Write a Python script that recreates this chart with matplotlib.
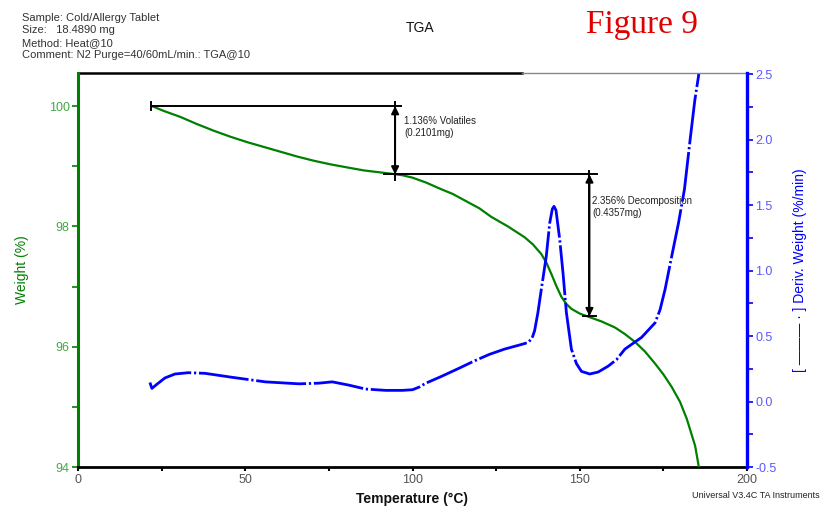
import matplotlib
matplotlib.use("Agg")
import matplotlib.pyplot as plt
from matplotlib.ticker import MultipleLocator

plt.rcParams["font.family"] = ["Liberation Sans", "DejaVu Sans"]

# --- weight curve (green) ---
temp_w = [22.1, 25.6, 30.6, 35.6, 40.6, 45.6, 50.6, 55.6, 60.6, 65.6, 70.6,
          75.6, 80.5, 85.5, 90.0, 94.5, 97.0, 100.0, 104.0, 108.5, 112.0,
          115.0, 118.0, 120.0, 123.5, 126.0, 128.5, 131.0, 133.5, 136.0,
          138.5, 140.0, 141.5, 143.0, 144.5, 146.0, 147.5, 150.0, 152.5,
          156.5, 160.5, 163.5, 166.5, 169.5, 172.5, 175.0, 177.5, 180.0,
          182.0, 184.5, 185.6]
weight = [100.0, 99.92, 99.82, 99.70, 99.59, 99.49, 99.40, 99.32, 99.24,
          99.16, 99.09, 99.03, 98.98, 98.93, 98.90, 98.87, 98.85, 98.81,
          98.73, 98.62, 98.54, 98.45, 98.36, 98.30, 98.16, 98.08, 98.00,
          97.91, 97.82, 97.70, 97.54, 97.40, 97.21, 97.01, 96.83, 96.71,
          96.63, 96.55, 96.50, 96.42, 96.32, 96.21, 96.08, 95.92, 95.72,
          95.54, 95.33, 95.08, 94.80, 94.35, 94.0]

# --- derivative curve (blue) ---
temp_d = [21.5, 22.1, 23.5, 26.0, 29.0, 33.0, 38.0, 46.0, 56.0, 66.0, 72.0,
          76.0, 81.0, 86.0, 92.0, 97.0, 100.0, 102.0, 104.0, 108.5, 114.0,
          118.5, 123.0, 127.5, 132.5, 134.5, 135.7, 136.5, 137.5, 138.5,
          140.0, 141.0, 141.8, 142.3, 142.9, 144.0, 145.0, 146.0, 147.5,
          149.0, 150.5, 153.0, 155.5, 158.5, 161.0, 163.5, 168.5, 172.5,
          174.0, 175.5, 177.5, 179.5, 181.3, 183.0, 184.4, 185.6]
deriv = [0.145, 0.10, 0.13, 0.18, 0.21, 0.22, 0.215, 0.185, 0.15, 0.135,
         0.14, 0.15, 0.125, 0.095, 0.085, 0.085, 0.09, 0.11, 0.14, 0.19,
         0.255, 0.31, 0.36, 0.40, 0.435, 0.45, 0.48, 0.54, 0.68, 0.855,
         1.11, 1.36, 1.47, 1.49, 1.46, 1.24, 0.98, 0.68, 0.40, 0.29, 0.23,
         0.21, 0.225, 0.27, 0.32, 0.40, 0.49, 0.60, 0.70, 0.855, 1.11,
         1.36, 1.62, 2.0, 2.3, 2.5]

# --- step analysis ---
w_start, w_mid, w_end = 100.0, 98.864, 96.508
t_start, t_step1, t_step2 = 21.8, 94.8, 152.9
label1 = "1.136% Volatiles\n(0.2101mg)"
label2 = "2.356% Decomposition\n(0.4357mg)"

header_lines = ["Sample: Cold/Allergy Tablet",
                "Size:   18.4890 mg",
                "Method: Heat@10",
                "Comment: N2 Purge=40/60mL/min.: TGA@10"]

GREEN = "#008000"
BLUE = "#0000ff"

fig = plt.figure(figsize=(8.27, 5.13), dpi=100)
ax = fig.add_axes([78 / 827, 46 / 513, 669 / 827, 394 / 513])
ax2 = ax.twinx()

ax.plot(temp_w, weight, color=GREEN, lw=1.6, zorder=3)
ax2.plot(temp_d, deriv, color=BLUE, lw=2.0,
         dashes=(18, 1.0, 0.8, 1.0), zorder=3)

ax.set_xlim(0, 200)
ax.set_ylim(94, 100.55)
ax2.set_ylim(-0.5, 2.508)

# annotation lines
kw = dict(color="black", lw=1.4, zorder=4)
ax.plot([t_start, 96.5], [w_start, w_start], **kw)
ax.plot([t_start, t_start], [w_start - 0.07, w_start + 0.07], **kw)
ax.plot([91.5, 155.3], [w_mid, w_mid], **kw)
ax.plot([t_step1, t_step1], [w_start + 0.06, w_mid - 0.09], **kw)
ax.plot([t_step2, t_step2], [w_mid + 0.06, w_end], **kw)
ax.plot([t_step2 - 1.8, t_step2 + 2.0], [w_end, w_end], **kw)
aprops = dict(arrowstyle="<|-|>", color="black", lw=1.4, mutation_scale=11,
              shrinkA=0, shrinkB=0)
ax.annotate("", xy=(t_step1, w_start), xytext=(t_step1, w_mid),
            arrowprops=aprops, zorder=4)
ax.annotate("", xy=(t_step2, w_mid), xytext=(t_step2, w_end),
            arrowprops=aprops, zorder=4)
ax.text(97.5, 99.83, label1, fontsize=7, color="#222222", va="top",
        ha="left", linespacing=1.15)
ax.text(153.8, 98.50, label2, fontsize=7, color="#222222", va="top",
        ha="left", linespacing=1.15)

# spines
for a in (ax, ax2):
    a.spines["top"].set_visible(False)
ax2.spines["left"].set_visible(False)
ax2.spines["bottom"].set_visible(False)
ax.spines["right"].set_visible(False)
ax.spines["left"].set_color(GREEN)
ax.spines["left"].set_linewidth(2.2)
ax2.spines["right"].set_color(BLUE)
ax2.spines["right"].set_linewidth(2.4)
ax.spines["bottom"].set_color("black")
ax.spines["bottom"].set_linewidth(2.0)
ax.plot([0, 0.664], [1, 1], transform=ax.transAxes, color="black", lw=1.8,
        clip_on=False)
ax.plot([0.664, 1], [1, 1], transform=ax.transAxes, color="#888888", lw=1.0,
        clip_on=False)

# ticks
ax.xaxis.set_major_locator(MultipleLocator(50))
ax.xaxis.set_minor_locator(MultipleLocator(25))
ax.yaxis.set_major_locator(MultipleLocator(2))
ax.yaxis.set_minor_locator(MultipleLocator(1))
ax2.yaxis.set_minor_locator(MultipleLocator(0.25))
ax2.set_yticks([-0.5, 0.0, 0.5, 1.0, 1.5, 2.0, 2.5])
ax2.set_yticklabels(["-0.5", "0.0", "0.5", "1.0", "1.5", "2.0", "2.5"])

ax.tick_params(axis="x", which="both", direction="out", length=3, width=1.5,
               color="black", labelcolor="#555555", labelsize=9, pad=2)
ax.tick_params(axis="y", which="both", direction="out", length=4, width=1.2,
               color=GREEN, labelcolor="#45a845", labelsize=9, pad=2)
ax2.tick_params(axis="y", which="both", direction="out", length=4, width=1.2,
                color=BLUE, labelcolor="#5a5aff", labelsize=9, pad=2)

ax.set_xlabel("Temperature (\u00b0C)", fontsize=10, fontweight="bold",
              color="#111111", labelpad=4)
ax.set_ylabel("Weight (%)", fontsize=10, color=GREEN, labelpad=14)
ax2.set_ylabel("[ \u2014\u2014\u2014 \u00b7 ] Deriv. Weight (%/min)",
               fontsize=10, color=BLUE, labelpad=12)

for i, line in enumerate(header_lines):
    fig.text(22 / 827, 1 - (20.7 + 12.55 * i) / 513, line, fontsize=8,
             color="#333333", va="baseline", ha="left")
fig.text(420 / 827, 1 - 28 / 513, "TGA", fontsize=10, color="#111111",
         ha="center", va="center")
fig.text(642 / 827, 1 - 25 / 513, "Figure 9", fontsize=24, color="#e00000",
         ha="center", va="center", family=["Liberation Serif", "DejaVu Serif"])
fig.text(820 / 827, 1 - 495 / 513, "Universal V3.4C TA Instruments",
         fontsize=6.5, color="#222222", ha="right", va="center")

fig.savefig("out.png", dpi=100)
